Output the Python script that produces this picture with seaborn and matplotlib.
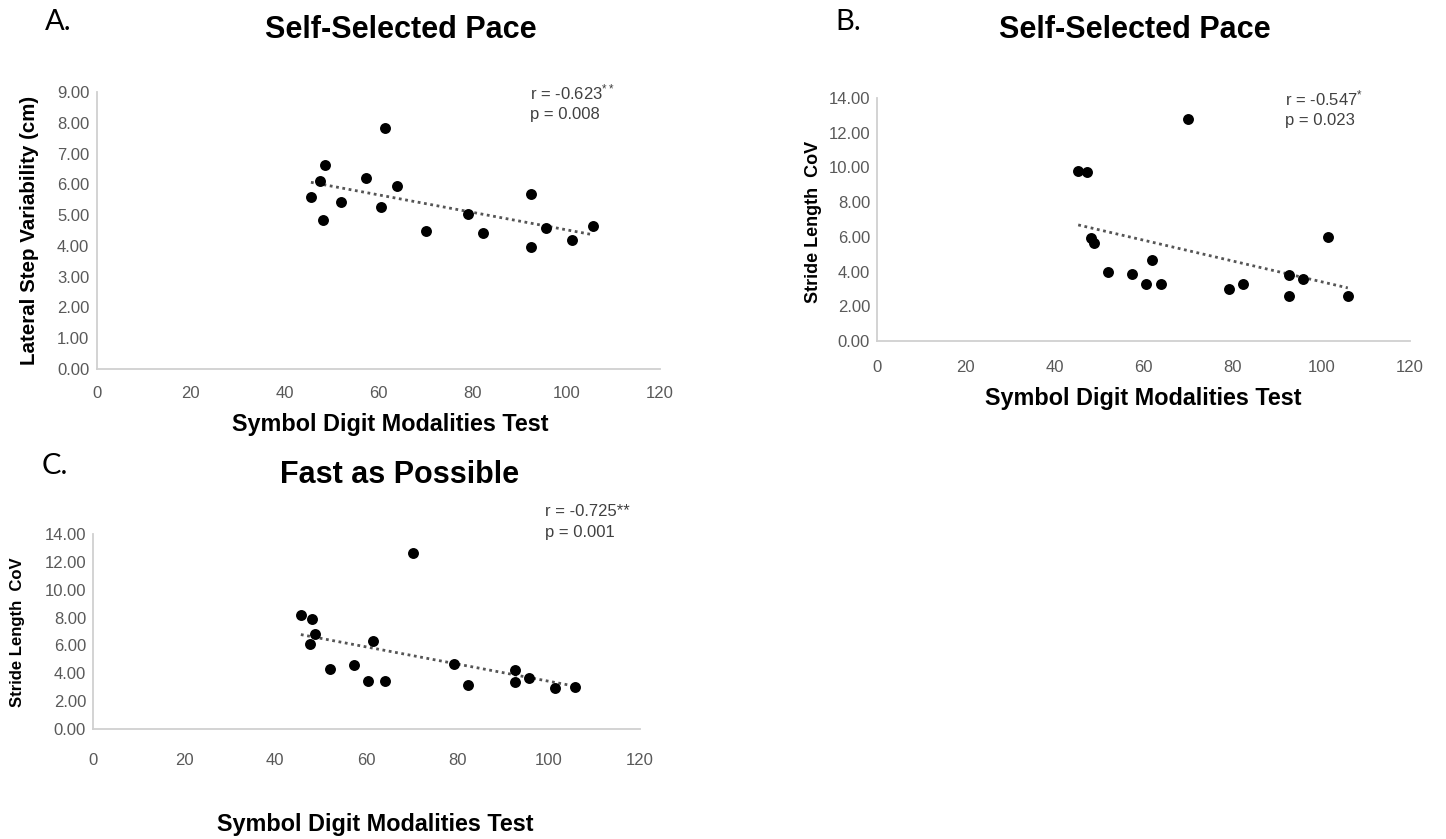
import numpy as np
import pandas as pd
import matplotlib
matplotlib.use("Agg")
import matplotlib.pyplot as plt
import seaborn as sns

# ---------------- data ----------------
sdmt_a = [45.6, 47.5, 48.7, 48.1, 52.1, 57.4, 60.5, 61.4, 63.9, 70.1, 79.1, 82.3, 92.4, 92.4, 95.7, 101.3, 105.8]
lateral_step_var = [5.60, 6.11, 6.64, 4.85, 5.43, 6.21, 5.27, 7.84, 5.95, 4.49, 5.05, 4.43, 5.69, 3.96, 4.59, 4.20, 4.65]

sdmt_b = [45.3, 47.3, 48.2, 48.9, 52.0, 57.3, 60.5, 61.9, 64.0, 70.1, 79.2, 82.4, 92.8, 92.8, 96.0, 101.5, 106.0]
stride_cov_ssp = [9.82, 9.74, 5.91, 5.64, 3.95, 3.87, 3.26, 4.64, 3.26, 12.81, 2.99, 3.26, 3.78, 2.57, 3.55, 6.00, 2.57]

sdmt_c = [45.6, 48.1, 48.8, 47.5, 52.1, 57.3, 60.4, 61.5, 64.0, 70.3, 79.2, 82.3, 92.5, 92.5, 95.6, 101.3, 105.8]
stride_cov_fap = [8.19, 7.88, 6.83, 6.13, 4.31, 4.56, 3.42, 6.29, 3.42, 12.64, 4.70, 3.18, 4.22, 3.34, 3.67, 2.95, 3.04]

titles = ["Self-Selected Pace", "Self-Selected Pace", "Fast as Possible"]
panel_letters = ["A.", "B.", "C."]
ylabels = ["Lateral Step Variability (cm)", "Stride Length  CoV", "Stride Length  CoV"]
xlabel = "Symbol Digit Modalities Test"
r_texts = [r"r = -0.623$^{**}$", r"r = -0.547$^{*}$", "r = -0.725**"]
p_texts = ["p = 0.008", "p = 0.023", "p = 0.001"]
x_ticks = [0, 20, 40, 60, 80, 100, 120]
y_ticks_a = [0, 1, 2, 3, 4, 5, 6, 7, 8, 9]
y_ticks_bc = [0, 2, 4, 6, 8, 10, 12, 14]

# ---------------- style ----------------
sns.set_style("white")
plt.rcParams["font.family"] = ["Liberation Sans", "DejaVu Sans"]
plt.rcParams["mathtext.default"] = "regular"

W, H = 1446, 839
fig = plt.figure(figsize=(W / 100, H / 100), dpi=100)

def rect(left, right, top, bottom):
    return [left / W, 1 - bottom / H, (right - left) / W, (bottom - top) / H]

axA = fig.add_axes(rect(97, 660, 92, 369))
axB = fig.add_axes(rect(877, 1410, 98, 341))
axC = fig.add_axes(rect(93, 640, 534, 729))

datasets = [
    (axA, sdmt_a, lateral_step_var, y_ticks_a, 12),
    (axB, sdmt_b, stride_cov_ssp, y_ticks_bc, 14),
    (axC, sdmt_c, stride_cov_fap, y_ticks_bc, 17),
]

for i, (ax, xs, ys, yt, xpad) in enumerate(datasets):
    df = pd.DataFrame({"x": xs, "y": ys})
    sns.regplot(data=df, x="x", y="y", ax=ax, ci=None,
                scatter_kws=dict(s=62, color="black", alpha=1, linewidths=0, zorder=3),
                line_kws=dict(color="#555555", lw=2.0, ls=(0, (1, 1.3)), zorder=2))
    ax.set_xlim(0, 120)
    ax.set_ylim(yt[0], yt[-1])
    ax.set_xticks(x_ticks)
    ax.set_yticks(yt)
    ax.set_xticklabels([str(t) for t in x_ticks])
    ax.set_yticklabels([f"{t:.2f}" for t in yt])
    ax.set_xlabel("")
    ax.set_ylabel("")
    for s in ["top", "right"]:
        ax.spines[s].set_visible(False)
    for s in ["left", "bottom"]:
        ax.spines[s].set_color("#d0d0d0")
        ax.spines[s].set_linewidth(1.3)
    ax.tick_params(axis="x", length=0, pad=xpad, labelsize=12, labelcolor="#595959")
    if i == 0:
        ax.tick_params(axis="y", length=5, width=1.0, color="#d0d0d0", direction="inout",
                       pad=3, labelsize=12, labelcolor="#595959")
    else:
        ax.tick_params(axis="y", length=0, pad=5, labelsize=12, labelcolor="#595959")
    ax.set_facecolor("white")
    ax.patch.set_alpha(0)

# annotations (r and p)
ann_pos = [(530, 92, 114), (1285, 98, 120), (545, 512, 533)]
for (x, yr, yp), rt, pt in zip(ann_pos, r_texts, p_texts):
    fig.text(x / W, 1 - yr / H, rt, fontsize=12, color="#404040", va="center", ha="left")
    fig.text(x / W, 1 - yp / H, pt, fontsize=12, color="#404040", va="center", ha="left")

# titles
title_pos = [(401, 30), (1135, 30), (400, 475)]
for (x, y), t in zip(title_pos, titles):
    fig.text(x / W, 1 - y / H, t, fontsize=22, fontweight="bold", color="black",
             ha="center", va="center")

# panel letters
letter_pos = [(58, 22), (848, 22), (55, 466)]
for (x, y), t in zip(letter_pos, panel_letters):
    fig.text(x / W, 1 - y / H, t, fontsize=21, color="black", ha="center", va="center",
             family=["Lato", "DejaVu Sans"])

# x labels
xl_pos = [(390, 424), (1143, 398), (375, 825)]
for x, y in xl_pos:
    fig.text(x / W, 1 - y / H, xlabel, fontsize=16.8, fontweight="bold", color="black",
             ha="center", va="center")

# y labels
yl_pos = [(30, 230, 14.8), (814, 222, 13), (18, 632, 12)]
for (x, y, fs), t in zip(yl_pos, ylabels):
    fig.text(x / W, 1 - y / H, t, fontsize=fs, fontweight="bold", color="black",
             ha="center", va="center", rotation=90)

fig.savefig("out.png", dpi=100, facecolor="white")
